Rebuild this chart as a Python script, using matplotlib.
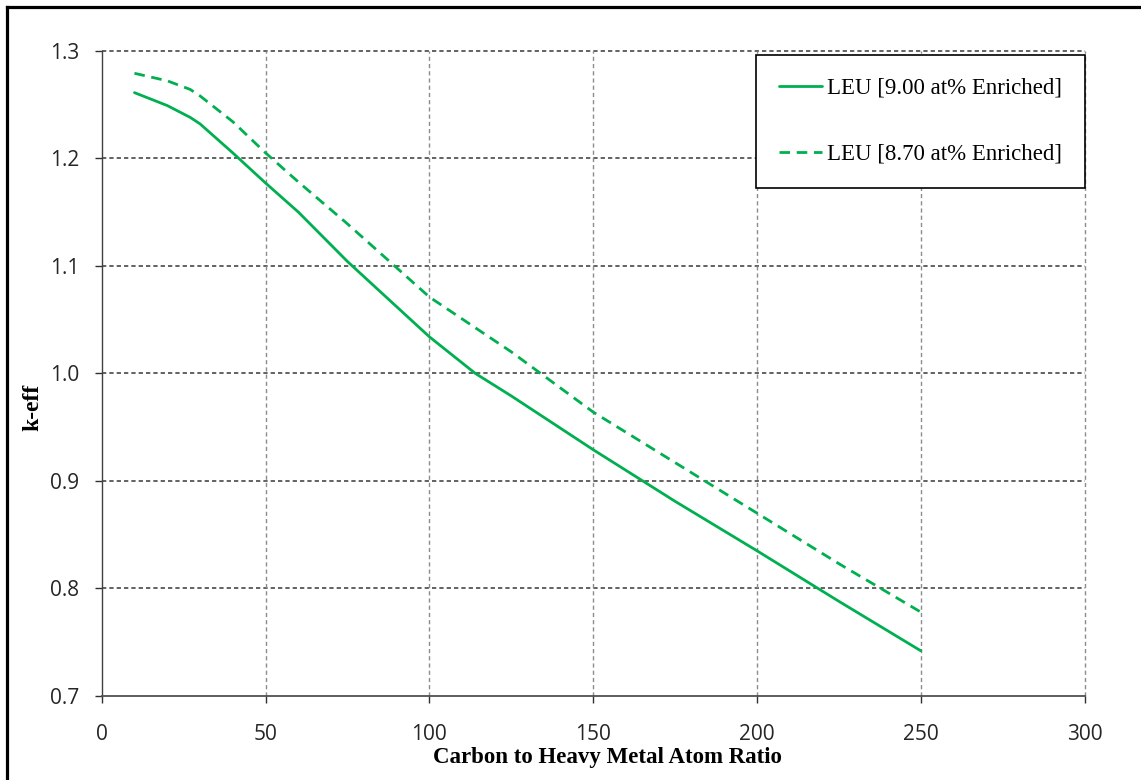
import matplotlib
matplotlib.use("Agg")
import matplotlib.pyplot as plt
from matplotlib.lines import Line2D

# carbon to heavy metal ratio vs k-eff
ratio_90 = [10, 20, 27, 30, 40, 50, 60, 75, 100, 114, 125, 150, 175, 200, 225, 250]
keff_90 = [1.261, 1.249, 1.238, 1.232, 1.205, 1.177, 1.150, 1.104, 1.034, 1.000,
           0.979, 0.929, 0.881, 0.835, 0.788, 0.742]
ratio_87 = [10, 20, 27, 30, 40, 50, 60, 75, 100, 125, 150, 175, 200, 225, 250]
keff_87 = [1.279, 1.272, 1.264, 1.258, 1.234, 1.205, 1.178, 1.139, 1.071, 1.020,
           0.964, 0.917, 0.870, 0.823, 0.778]
labels = ["LEU [9.00 at% Enriched]", "LEU [8.70 at% Enriched]"]
xticks = [0, 50, 100, 150, 200, 250, 300]
yticks = [0.7, 0.8, 0.9, 1.0, 1.1, 1.2, 1.3]

green = "#00B050"
W, H = 1141, 780

fig = plt.figure(figsize=(W / 100, H / 100), dpi=100)
ax = fig.add_axes([101.7 / W, 1 - 696 / H, (1084.7 - 101.7) / W, (696 - 50.7) / H])

ax.plot(ratio_90, keff_90, color=green, lw=2.0, label=labels[0],
        solid_joinstyle="round", solid_capstyle="round")
ax.plot(ratio_87, keff_87, color=green, lw=2.0, ls=(0, (3.8, 2.4)), label=labels[1])

ax.set_xlim(0, 300)
ax.set_ylim(0.7, 1.3)
ax.set_xticks(xticks)
ax.set_yticks(yticks)
ax.set_yticklabels(["%.1f" % v for v in yticks])

# grid: horizontal dark dashes, vertical grey dashes
for v in yticks[1:]:
    ax.axhline(v, color="#383838", lw=1.1, ls=(0, (2.8, 2.0)), zorder=0, clip_on=False)
for v in xticks[1:]:
    ax.axvline(v, color="#8c8c8c", lw=1.0, ls=(0, (3, 2.2)), zorder=0, clip_on=False)

for s in ["top", "right"]:
    ax.spines[s].set_visible(False)
ax.spines["left"].set_color("#404040")
ax.spines["bottom"].set_color("#505050")
ax.spines["left"].set_linewidth(1.0)
ax.spines["bottom"].set_linewidth(1.3)
ax.tick_params(axis="both", direction="out", length=5, width=1.0, color="#303030",
               labelsize=15, labelcolor="#262626")
ax.tick_params(axis="x", pad=15)
ax.tick_params(axis="y", pad=11)
for t in ax.get_xticklabels() + ax.get_yticklabels():
    t.set_fontfamily("Open Sans")

fig.text(607 / W, 1 - 758 / H, "Carbon to Heavy Metal Atom Ratio", ha="center", va="center",
         fontsize=16.5, fontweight="bold", family="Liberation Serif")
fig.text(33 / W, 1 - 407 / H, "k-eff", ha="center", va="center", rotation=90,
         fontsize=17, fontweight="bold", family="Liberation Serif")

leg = ax.legend(loc="upper right", bbox_to_anchor=(1084.7 / W, 1 - 55 / H),
                bbox_transform=fig.transFigure, borderaxespad=0, fancybox=False,
                edgecolor="black", framealpha=1, handlelength=1.9, handletextpad=0.2,
                labelspacing=1.95, borderpad=1.0,
                prop={"family": "Liberation Serif", "size": 16.5})
leg.get_frame().set_linewidth(1.2)

# outer frame of the picture (only top and left visible)
fig.add_artist(Line2D([6.5 / W, 1], [1 - 6.5 / H, 1 - 6.5 / H], color="black", lw=2.3,
                      transform=fig.transFigure))
fig.add_artist(Line2D([6.5 / W, 6.5 / W], [0, 1 - 6.5 / H], color="black", lw=2.3,
                      transform=fig.transFigure))

fig.savefig("out.png", dpi=100)
